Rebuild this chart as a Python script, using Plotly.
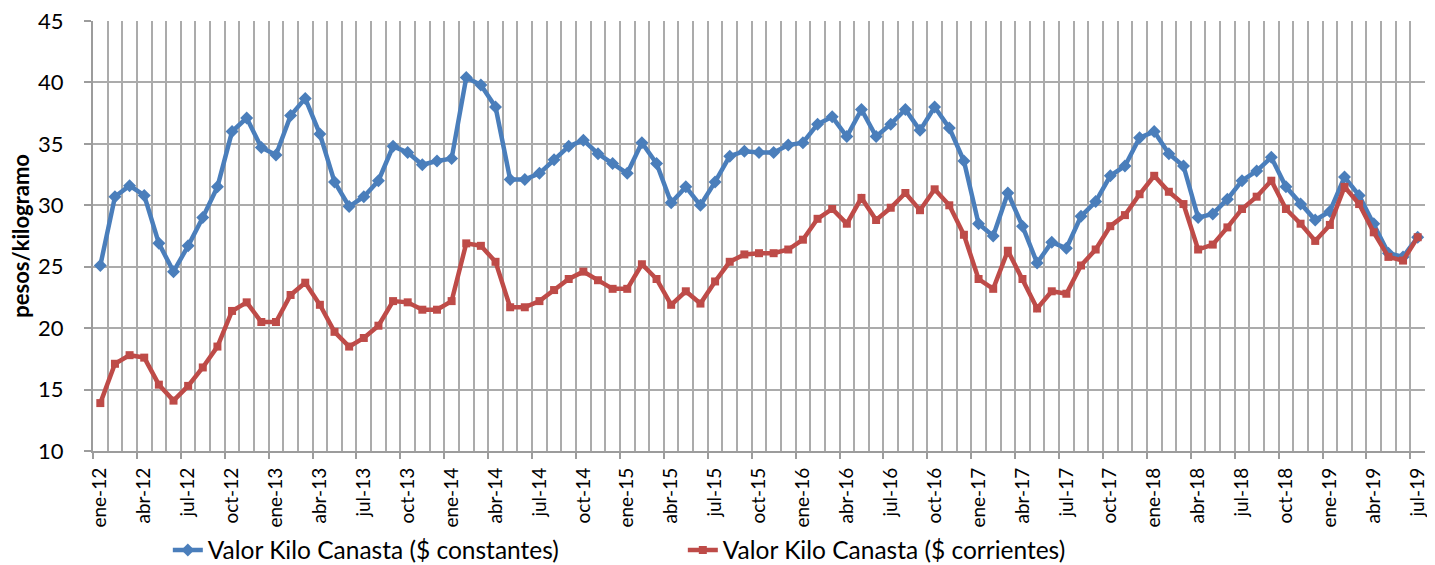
import plotly.graph_objects as go

# monthly values, ene-12 .. jul-19
meses = ["ene", "feb", "mar", "abr", "may", "jun", "jul", "ago", "sep", "oct", "nov", "dic"]
anios = ["12", "13", "14", "15", "16", "17", "18", "19"]

constantes = [25.1, 30.7, 31.6, 30.8, 26.9, 24.6, 26.7, 29.0, 31.5, 36.0, 37.1, 34.7, 34.1, 37.3, 38.7,
              35.8, 31.9, 29.9, 30.7, 32.0, 34.8, 34.3, 33.3, 33.6, 33.8, 40.4, 39.8, 38.0, 32.1, 32.1, 32.6,
              33.7, 34.8, 35.3, 34.2, 33.4, 32.6, 35.1, 33.4, 30.2, 31.5, 30.0, 31.9, 34.0, 34.4, 34.3, 34.3,
              34.9, 35.1, 36.6, 37.2,
              35.6, 37.8, 35.6, 36.6, 37.8, 36.1, 38.0, 36.3, 33.6, 28.5, 27.5, 31.0, 28.3, 25.3, 27.0, 26.5,
              29.1, 30.3, 32.4, 33.2,
              35.5, 36.0, 34.2, 33.2, 29.0, 29.3, 30.5, 32.0, 32.8, 33.9, 31.5, 30.1, 28.8, 29.5, 32.3, 30.8,
              28.5, 26.1, 25.8, 27.4]

corrientes = [13.9, 17.1, 17.8, 17.6, 15.4, 14.1, 15.3, 16.8, 18.5, 21.4, 22.1, 20.5, 20.5, 22.7, 23.7,
              21.9, 19.7, 18.5, 19.2, 20.2, 22.2, 22.1, 21.5, 21.5, 22.2, 26.9, 26.7, 25.4, 21.7, 21.7, 22.2,
              23.1, 24.0, 24.6, 23.9, 23.2, 23.2, 25.2, 24.0, 21.9, 23.0, 22.0, 23.8, 25.4, 26.0, 26.1, 26.1,
              26.4, 27.2, 28.9, 29.7,
              28.5, 30.6, 28.8, 29.8, 31.0, 29.6, 31.3, 30.0, 27.6, 24.0, 23.2, 26.3, 24.0, 21.6, 23.0, 22.8,
              25.1, 26.4, 28.3, 29.2,
              30.9, 32.4, 31.1, 30.1, 26.4, 26.8, 28.2, 29.7, 30.7, 32.0, 29.7, 28.5, 27.1, 28.4, 31.5, 30.1,
              27.8, 25.8, 25.5, 27.4]

n = len(constantes)
etiquetas = [m + "-" + a for a in anios for m in meses][:n]
x = list(range(n))

AZUL = "#4A7EBB"
ROJO = "#BE4B48"
GRID = "#ABABAB"
EJE = "#9C9C9C"
FONT = "Lato"

fig = go.Figure()

fig.add_trace(go.Scatter(
    x=x, y=constantes, mode="lines+markers", name="Valor Kilo Canasta ($ constantes)",
    line=dict(color=AZUL, width=4.5),
    marker=dict(symbol="diamond", size=10, color=AZUL),
))
fig.add_trace(go.Scatter(
    x=x, y=corrientes, mode="lines+markers", name="Valor Kilo Canasta ($ corrientes)",
    line=dict(color=ROJO, width=4.5),
    marker=dict(symbol="square", size=8, color=ROJO),
))
# invisible trace that carries the month labels axis
fig.add_trace(go.Scatter(
    x=x, y=constantes, xaxis="x2", mode="lines", line=dict(width=0),
    opacity=0, showlegend=False, hoverinfo="skip",
))

fronteras = [i - 0.5 for i in range(0, n + 1)]
# the page body has an 8px margin, so the figure is shifted by 8px
fig.update_layout(
    width=1427, height=557,
    margin=dict(l=85, r=10, t=13, b=114),
    paper_bgcolor="white", plot_bgcolor="white",
    font=dict(family=FONT, color="black"),
    xaxis=dict(
        range=[-0.5, n - 0.5], automargin=False,
        tickmode="array", tickvals=fronteras[::3],
        showticklabels=False, ticks="outside", ticklen=6, tickwidth=2, tickcolor=EJE,
        showgrid=True, gridcolor=GRID, gridwidth=2,
        minor=dict(tickmode="array", tickvals=fronteras, showgrid=True,
                   gridcolor=GRID, gridwidth=2, ticks=""),
        showline=True, linecolor=EJE, linewidth=2,
        zeroline=False,
    ),
    xaxis2=dict(
        overlaying="x", side="bottom", anchor="y", automargin=False,
        range=[-0.5, n - 0.5],
        tickmode="array", tickvals=x[::3], ticktext=etiquetas[::3],
        tickangle=-90, tickfont=dict(size=19, family=FONT),
        ticks="", showgrid=False, zeroline=False, showline=False,
        ticklabelstandoff=12, ticklabeloverflow="allow",
    ),
    yaxis=dict(
        range=[10, 45], dtick=5, tick0=10, automargin=False,
        tickfont=dict(size=22, family=FONT),
        ticks="outside", ticklen=7, tickwidth=2, tickcolor=EJE,
        ticklabelstandoff=16, ticklabeloverflow="allow",
        showgrid=True, gridcolor=GRID, gridwidth=2,
        showline=True, linecolor=EJE, linewidth=2,
        zeroline=False,
    ),
    legend=dict(
        orientation="h", xref="container", yref="container",
        x=0.112, xanchor="left", y=0.027, yanchor="middle",
        font=dict(size=24.5, family=FONT), entrywidth=470, entrywidthmode="pixels",
        bgcolor="rgba(0,0,0,0)",
    ),
    hovermode="x unified",
)

# y axis title as a rotated annotation so it sits left of the shifted tick labels
fig.add_annotation(
    text="<b>pesos/kilogramo</b>", textangle=-90, showarrow=False,
    xref="paper", yref="paper", x=-0.055, y=0.5, xanchor="center", yanchor="middle",
    font=dict(size=22, family=FONT, color="black"),
)

fig.write_html("out.html")
